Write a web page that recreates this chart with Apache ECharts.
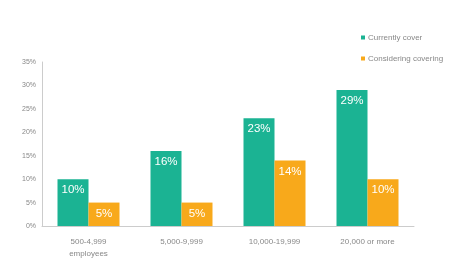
<!DOCTYPE html>
<html><head><meta charset="utf-8">
<script src="https://cdn.jsdelivr.net/npm/echarts@6/dist/echarts.min.js"></script>
<style>html,body{margin:0;padding:0;background:#fff}#c{width:450px;height:270px}</style>
</head><body><div id="c"></div>
<script>
const categories = ['500-4,999\nemployees', '5,000-9,999', '10,000-19,999', '20,000 or more'];
const currentlyCover = [10, 16, 23, 29];
const consideringCovering = [5, 5, 14, 10];
const yTicks = [0, 5, 10, 15, 20, 25, 30, 35];

const chart = echarts.init(document.getElementById('c'));
const lbl = {show: true, position: 'insideTop', distance: 5, color: '#fff', fontSize: 11.5, fontFamily: 'Arial, Liberation Sans, sans-serif', formatter: p => p.value + '%'};
chart.setOption({
  animation: false,
  textStyle: {fontFamily: 'Arial, Liberation Sans, sans-serif'},
  grid: {left: 42, right: 36, top: 62, bottom: 44},
  legend: {
    orient: 'vertical', left: 356, top: 27, itemWidth: 4, itemHeight: 4, itemGap: 10,
    icon: 'rect', textStyle: {fontSize: 8, color: '#888', padding: [0, 0, 0, -2], lineHeight: 11},
    data: ['Currently cover', 'Considering covering']
  },
  xAxis: {
    type: 'category', data: categories,
    axisLine: {lineStyle: {color: '#ccc'}}, axisTick: {show: false},
    axisLabel: {color: '#888', fontSize: 8, margin: 10, lineHeight: 12}
  },
  yAxis: {
    type: 'value', min: 0, max: 35, interval: 5,
    axisLine: {show: true, lineStyle: {color: '#ccc'}}, axisTick: {show: false},
    splitLine: {show: false},
    axisLabel: {color: '#888', fontSize: 7, margin: 6, formatter: v => yTicks.includes(v) ? v + '%' : ''}
  },
  series: [
    {name: 'Currently cover', type: 'bar', data: currentlyCover, barWidth: 31, barGap: '0%', itemStyle: {color: '#1bb393'}, label: lbl},
    {name: 'Considering covering', type: 'bar', data: consideringCovering, barWidth: 31, itemStyle: {color: '#f8a91b'}, label: lbl}
  ]
});
</script></body></html>
